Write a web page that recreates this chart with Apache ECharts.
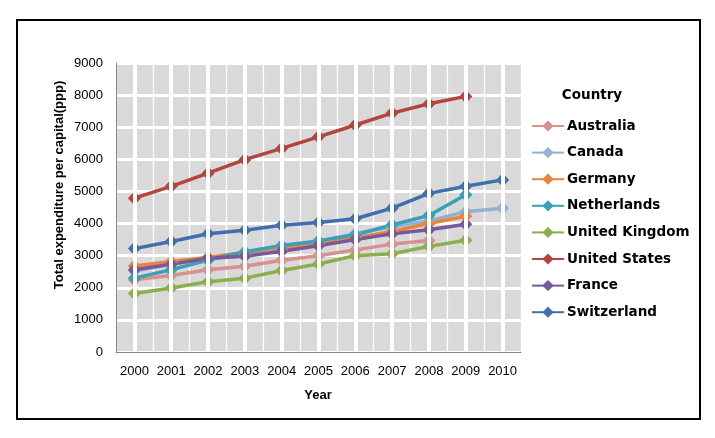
<!DOCTYPE html>
<html><head><meta charset="utf-8">
<script src="https://cdn.jsdelivr.net/npm/echarts@6/dist/echarts.min.js"></script>
<style>html,body{margin:0;padding:0;background:#fff}#c{width:715px;height:438px}</style>
</head><body><div id="c"></div>
<script>
const years = ['2000','2001','2002','2003','2004','2005','2006','2007','2008','2009','2010'];
const australia   = [2250, 2380, 2560, 2670, 2860, 3000, 3180, 3360, 3470, null, null];
const canada      = [2520, 2730, 2900, 3000, 3170, 3450, 3680, 3900, 4080, 4370, 4480];
const germany     = [2680, 2820, 2950, 3100, 3270, 3350, 3560, 3750, 4000, 4230, null];
const netherlands = [2300, 2560, 2860, 3120, 3320, 3460, 3650, 3960, 4250, 4900, null];
const uk          = [1820, 1990, 2190, 2300, 2540, 2740, 3000, 3060, 3290, 3480, null];
const us          = [4790, 5160, 5570, 5990, 6340, 6700, 7070, 7440, 7730, 7960, null];
const france      = [2560, 2730, 2920, 2980, 3140, 3310, 3500, 3680, 3810, 3980, null];
const switzerland = [3220, 3440, 3680, 3790, 3950, 4030, 4150, 4480, 4940, 5160, 5360];

const names  = ['Australia','Canada','Germany','Netherlands','United Kingdom','United States','France','Switzerland'];
const values = [australia, canada, germany, netherlands, uk, us, france, switzerland];
const colors = ['#d8918f','#93b0d6','#e8853a','#39a0b8','#8cae4b','#b4443f','#77599b','#3f70ad'];

const chart = echarts.init(document.getElementById('c'), null, {renderer:'canvas'});
const series = names.map((n,i)=>({
  name:n, type:'line', data:values[i], z:3,
  symbol:'diamond', symbolSize:[13,14], showSymbol:true,
  lineStyle:{width:3.5, color:colors[i]},
  itemStyle:{color:colors[i]},
  connectNulls:false
}));
series.unshift({
  name:'_grid', type:'line', data:years.map(()=>null), z:1, silent:true,
  markLine:{silent:true, symbol:['none','none'], label:{show:false},
    lineStyle:{color:'#ffffff', width:4, type:'solid'},
    data: years.map(y=>({xAxis:y}))}
});

const lblFont = 'Liberation Sans';
chart.setOption({
  animation:false,
  color:colors,
  grid:{left:116, right:194, top:63, bottom:86, show:true, backgroundColor:'#d9d9d9', borderWidth:0},
  xAxis:{type:'category', data:years, boundaryGap:true,
    axisLine:{show:true, lineStyle:{color:'#868686', width:1}},
    axisTick:{show:false},
    axisLabel:{color:'#000', fontSize:13, fontFamily:lblFont, margin:13, interval:0},
    splitLine:{show:true, interval:0, lineStyle:{color:'#ffffff', width:1.3}}
  },
  yAxis:{type:'value', min:0, max:9000, interval:1000,
    axisLine:{show:true, lineStyle:{color:'#868686', width:1}},
    axisTick:{show:false},
    axisLabel:{color:'#000', fontSize:13, fontFamily:lblFont, margin:13, formatter:v=>String(v)},
    splitLine:{show:true, lineStyle:{color:'#ffffff', width:3}}
  },
  legend:{
    data:names, orient:'vertical', left:531, top:119, padding:0,
    itemWidth:32, itemHeight:14, itemGap:12.6,
    textStyle:{color:'#000', fontSize:13.5, fontWeight:'bold', fontFamily:'DejaVu Sans', lineHeight:14, padding:[0,0,0,-2]}
  },
  graphic:[
    {type:'rect', shape:{x:17, y:20, width:683, height:399}, style:{fill:'none', stroke:'#000', lineWidth:2}, silent:true},
    {type:'text', x:592, y:95, style:{text:'Country', fontSize:13.5, fontWeight:'bold', fontFamily:'DejaVu Sans', fill:'#000', textAlign:'center', textVerticalAlign:'middle'}},
    {type:'text', x:318, y:395, style:{text:'Year', fontSize:13, fontWeight:'bold', fontFamily:lblFont, fill:'#000', textAlign:'center', textVerticalAlign:'middle'}},
    {type:'text', x:59, y:185, rotation:Math.PI/2, style:{text:'Total expenditure per capital(ppp)', fontSize:13, fontWeight:'bold', fontFamily:lblFont, fill:'#000', textAlign:'center', textVerticalAlign:'middle'}}
  ],
  series:series
});
</script></body></html>
